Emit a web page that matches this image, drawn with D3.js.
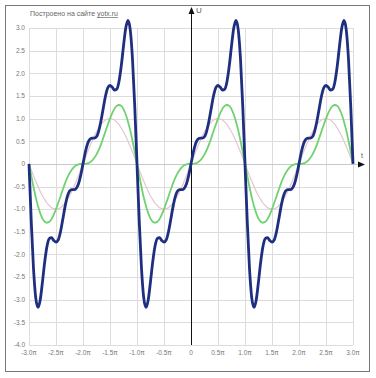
<!DOCTYPE html>
<html><head><meta charset="utf-8">
<script src="https://cdn.jsdelivr.net/npm/d3@7"></script>
<style>body{margin:0;background:#fff}svg{display:block}</style>
</head><body>
<script>
// sample positions in units of π: -3π .. 3π, step π/24
const tSamples = d3.range(-72, 73).map(k => k / 24);

const blueValues = [
0,-1.27,-2.31,-2.96,-3.17,-3.00,-2.60,-2.16,-1.82,-1.65,-1.63,-1.69,-1.73,-1.68,-1.50,-1.23,-0.95,-0.73,-0.60,-0.57,-0.57,-0.54,-0.44,-0.25,
0,0.25,0.44,0.54,0.57,0.57,0.60,0.73,0.95,1.23,1.50,1.68,1.73,1.69,1.63,1.65,1.82,2.16,2.60,3.00,3.17,2.96,2.31,1.27,
0,-1.27,-2.31,-2.96,-3.17,-3.00,-2.60,-2.16,-1.82,-1.65,-1.63,-1.69,-1.73,-1.68,-1.50,-1.23,-0.95,-0.73,-0.60,-0.57,-0.57,-0.54,-0.44,-0.25,
0,0.25,0.44,0.54,0.57,0.57,0.60,0.73,0.95,1.23,1.50,1.68,1.73,1.69,1.63,1.65,1.82,2.16,2.60,3.00,3.17,2.96,2.31,1.27,
0,-1.27,-2.31,-2.96,-3.17,-3.00,-2.60,-2.16,-1.82,-1.65,-1.63,-1.69,-1.73,-1.68,-1.50,-1.23,-0.95,-0.73,-0.60,-0.57,-0.57,-0.54,-0.44,-0.25,
0,0.25,0.44,0.54,0.57,0.57,0.60,0.73,0.95,1.23,1.50,1.68,1.73,1.69,1.63,1.65,1.82,2.16,2.60,3.00,3.17,2.96,2.31,1.27,
0];

const greenValues = [
0,-0.26,-0.51,-0.74,-0.93,-1.09,-1.21,-1.28,-1.30,-1.28,-1.22,-1.12,-1.00,-0.86,-0.72,-0.57,-0.43,-0.31,-0.21,-0.13,-0.07,-0.03,-0.01,0,
0,0,0.01,0.03,0.07,0.13,0.21,0.31,0.43,0.57,0.72,0.86,1.00,1.12,1.22,1.28,1.30,1.28,1.21,1.09,0.93,0.74,0.51,0.26,
0,-0.26,-0.51,-0.74,-0.93,-1.09,-1.21,-1.28,-1.30,-1.28,-1.22,-1.12,-1.00,-0.86,-0.72,-0.57,-0.43,-0.31,-0.21,-0.13,-0.07,-0.03,-0.01,0,
0,0,0.01,0.03,0.07,0.13,0.21,0.31,0.43,0.57,0.72,0.86,1.00,1.12,1.22,1.28,1.30,1.28,1.21,1.09,0.93,0.74,0.51,0.26,
0,-0.26,-0.51,-0.74,-0.93,-1.09,-1.21,-1.28,-1.30,-1.28,-1.22,-1.12,-1.00,-0.86,-0.72,-0.57,-0.43,-0.31,-0.21,-0.13,-0.07,-0.03,-0.01,0,
0,0,0.01,0.03,0.07,0.13,0.21,0.31,0.43,0.57,0.72,0.86,1.00,1.12,1.22,1.28,1.30,1.28,1.21,1.09,0.93,0.74,0.51,0.26,
0];

const pinkValues = [
0,-0.13,-0.26,-0.38,-0.50,-0.61,-0.71,-0.79,-0.87,-0.92,-0.97,-0.99,-1.00,-0.99,-0.97,-0.92,-0.87,-0.79,-0.71,-0.61,-0.50,-0.38,-0.26,-0.13,
0,0.13,0.26,0.38,0.50,0.61,0.71,0.79,0.87,0.92,0.97,0.99,1.00,0.99,0.97,0.92,0.87,0.79,0.71,0.61,0.50,0.38,0.26,0.13,
0,-0.13,-0.26,-0.38,-0.50,-0.61,-0.71,-0.79,-0.87,-0.92,-0.97,-0.99,-1.00,-0.99,-0.97,-0.92,-0.87,-0.79,-0.71,-0.61,-0.50,-0.38,-0.26,-0.13,
0,0.13,0.26,0.38,0.50,0.61,0.71,0.79,0.87,0.92,0.97,0.99,1.00,0.99,0.97,0.92,0.87,0.79,0.71,0.61,0.50,0.38,0.26,0.13,
0,-0.13,-0.26,-0.38,-0.50,-0.61,-0.71,-0.79,-0.87,-0.92,-0.97,-0.99,-1.00,-0.99,-0.97,-0.92,-0.87,-0.79,-0.71,-0.61,-0.50,-0.38,-0.26,-0.13,
0,0.13,0.26,0.38,0.50,0.61,0.71,0.79,0.87,0.92,0.97,0.99,1.00,0.99,0.97,0.92,0.87,0.79,0.71,0.61,0.50,0.38,0.26,0.13,
0];

const xTickValues = [-3,-2.5,-2,-1.5,-1,-0.5,0,0.5,1,1.5,2,2.5,3];
const xTickLabels = ["-3.0π","-2.5π","-2.0π","-1.5π","-1.0π","-0.5π","0","0.5π","1.0π","1.5π","2.0π","2.5π","3.0π"];
const yTickValues = [3,2.5,2,1.5,1,0.5,0,-0.5,-1,-1.5,-2,-2.5,-3,-3.5,-4];
const yTickLabels = ["3.0","2.5","2.0","1.5","1.0","0.5","0","-0.5","-1.0","-1.5","-2.0","-2.5","-3.0","-3.5","-4.0"];
const titleText = "Построено на сайте ";
const titleLink = "yotx.ru";

const W = 376, H = 378;
const svg = d3.select("body").append("svg").attr("width", W).attr("height", H);

const x = d3.scaleLinear().domain([-3, 3]).range([29, 353]);
const y = d3.scaleLinear().domain([-4, 3]).range([345, 28]);

// frame
svg.append("rect").attr("x", 5.5).attr("y", 5.5).attr("width", 364).attr("height", 366)
  .attr("fill", "#fff").attr("stroke", "#777").attr("stroke-width", 1);

// grid
const grid = svg.append("g").attr("stroke", "#dcdcdc").attr("stroke-width", 1);
grid.selectAll("line.v").data(xTickValues).join("line")
  .attr("x1", d => Math.round(x(d)) + 0.5).attr("x2", d => Math.round(x(d)) + 0.5)
  .attr("y1", y(3)).attr("y2", y(-4));
grid.selectAll("line.h").data(yTickValues).join("line")
  .attr("class", "h")
  .attr("x1", x(-3)).attr("x2", x(3))
  .attr("y1", d => Math.round(y(d)) + 0.5).attr("y2", d => Math.round(y(d)) + 0.5);

// x zero line (horizontal axis) extended to arrow
const y0 = Math.round(y(0)) + 0.5;
svg.append("line").attr("x1", x(-3)).attr("x2", 362).attr("y1", y0).attr("y2", y0)
  .attr("stroke", "#c8c8c8").attr("stroke-width", 1);
svg.append("path").attr("d", `M365,${y0} L358,${y0 - 3} L358,${y0 + 3} Z`).attr("fill", "#111");

// y axis
const x0 = Math.round(x(0)) + 0.5;
svg.append("line").attr("x1", x0).attr("x2", x0).attr("y1", 12).attr("y2", y(-4))
  .attr("stroke", "#111").attr("stroke-width", 1);
svg.append("path").attr("d", `M${x0},7 L${x0 - 3},14 L${x0 + 3},14 Z`).attr("fill", "#111");

const font = "Liberation Sans, Arial, sans-serif";
// tick labels
svg.append("g").selectAll("text").data(xTickValues).join("text")
  .attr("x", d => x(d)).attr("y", 355)
  .attr("text-anchor", "middle").attr("font-family", font).attr("font-size", 6.5)
  .attr("fill", "#777").text((d, i) => xTickLabels[i]);
svg.append("g").selectAll("text").data(yTickValues).join("text")
  .attr("x", 25).attr("y", d => y(d) + 2.3)
  .attr("text-anchor", "end").attr("font-family", font).attr("font-size", 6.5)
  .attr("fill", "#777").text((d, i) => yTickLabels[i]);

// axis names
svg.append("text").attr("x", 196).attr("y", 13).attr("font-family", font).attr("font-size", 8)
  .attr("fill", "#555").text("U");
svg.append("text").attr("x", 361).attr("y", 158).attr("font-family", font).attr("font-size", 7)
  .attr("fill", "#555").text("t");

// title
const tt = svg.append("text").attr("x", 30).attr("y", 16).attr("font-family", font)
  .attr("font-size", 7).attr("fill", "#666");
tt.append("tspan").text(titleText);
tt.append("tspan").attr("text-decoration", "underline").text(titleLink);

// curves
const line = vals => d3.line().x((d, i) => x(tSamples[i])).y(d => y(d)).curve(d3.curveMonotoneX)(vals);
svg.append("path").attr("d", line(pinkValues)).attr("fill", "none")
  .attr("stroke", "#e5c6cf").attr("stroke-width", 1.2);
svg.append("path").attr("d", line(greenValues)).attr("fill", "none")
  .attr("stroke", "#6fd26f").attr("stroke-width", 1.8);
svg.append("path").attr("d", line(blueValues)).attr("fill", "none")
  .attr("stroke", "#1e2f80").attr("stroke-width", 2.8).attr("stroke-linejoin", "round");
</script>
</body></html>
